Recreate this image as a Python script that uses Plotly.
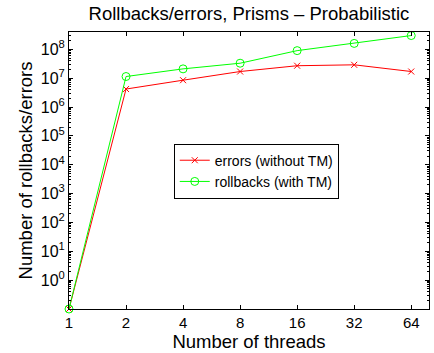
import plotly.graph_objects as go

threads = [1, 2, 4, 8, 16, 32, 64]
errors_without_tm = [0.1, 4.2e6, 8.5e6, 1.7e7, 2.7e7, 2.9e7, 1.7e7]
rollbacks_with_tm = [0.1, 1.14e7, 2.1e7, 3.3e7, 9.0e7, 1.6e8, 3.0e8]
x_tick_labels = ["1", "2", "4", "8", "16", "32", "64"]
y_tick_vals = [10 ** k for k in range(0, 9)]
y_tick_labels = ["10<sup>%d</sup>" % k for k in range(0, 9)]

FONT = "Liberation Sans, Arial, Helvetica, sans-serif"

fig = go.Figure()
fig.add_trace(go.Scatter(
    x=threads, y=errors_without_tm, mode="lines+markers",
    name="errors (without TM)",
    line=dict(color="rgb(255,0,0)", width=1),
    marker=dict(symbol="x-thin", size=6, color="rgb(255,0,0)",
                line=dict(color="rgb(255,0,0)", width=1)),
    cliponaxis=False,
))
fig.add_trace(go.Scatter(
    x=threads, y=rollbacks_with_tm, mode="lines+markers",
    name="rollbacks (with TM)",
    line=dict(color="rgb(0,255,0)", width=1),
    marker=dict(symbol="circle-open", size=8, color="rgb(0,255,0)",
                line=dict(color="rgb(0,255,0)", width=1)),
    cliponaxis=False,
))

minor_vals = [m * 10 ** k for k in range(-1, 9) for m in range(2, 10)]

fig.update_layout(
    width=434, height=353,
    margin=dict(l=69, r=5, t=32, b=44),
    paper_bgcolor="white", plot_bgcolor="white",
    font=dict(family=FONT, color="black", size=14),
    title=dict(text="Rollbacks/errors, Prisms – Probabilistic",
               x=0.5735, xanchor="center", y=0.963, yanchor="middle",
               font=dict(size=18.5)),
    showlegend=True,
    legend=dict(x=0.291, y=0.597, xanchor="left", yanchor="top",
                bgcolor="white", bordercolor="black", borderwidth=1,
                font=dict(size=14), itemwidth=30, tracegroupgap=0),
    xaxis=dict(
        type="log", range=[0, 1.9],
        tickmode="array", tickvals=threads, ticktext=x_tick_labels,
        ticks="inside", ticklen=4, tickcolor="black",
        showline=True, linecolor="black", linewidth=1, mirror="allticks",
        showgrid=False, zeroline=False,
        tickfont=dict(size=15),
        title=dict(text="Number of threads", font=dict(size=18.5), standoff=0),
    ),
    yaxis=dict(
        type="log", range=[-1, 8.6],
        tickmode="array", tickvals=y_tick_vals, ticktext=y_tick_labels,
        ticks="inside", ticklen=4, tickcolor="black",
        showline=True, linecolor="black", linewidth=1, mirror="allticks",
        showgrid=False, zeroline=False,
        tickfont=dict(size=16),
        minor=dict(tickmode="array", tickvals=minor_vals, ticks="inside",
                   ticklen=2, tickcolor="black", showgrid=False),
        title=dict(text="Number of rollbacks/errors", font=dict(size=18.5), standoff=3),
    ),
)

fig.write_html("out.html")
